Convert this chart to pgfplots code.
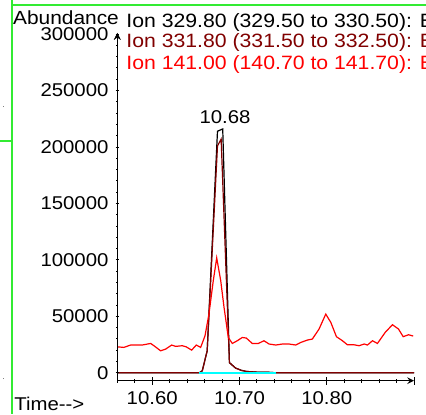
\documentclass[border=0pt]{standalone}
\usepackage{fontspec}
\setmainfont{Liberation Sans}[FakeStretch=1.1]
\usepackage{pgfplots}
\usepackage{pgfplotstable}
\pgfplotsset{compat=1.18}

\definecolor{scrgreen}{RGB}{50,235,50}
\definecolor{ionB}{RGB}{128,0,0}
\definecolor{ionC}{RGB}{255,0,0}
\definecolor{basecyan}{RGB}{0,255,255}

% Ion 329.80
\pgfplotstableread{
t a
10.560 0
10.654 0
10.6574 1800
10.663 19500
10.6748 214000
10.6808 216000
10.6885 9000
10.6955 4200
10.702 2200
10.708 1200
10.720 600
10.735 400
10.742 0
10.900 0
}\ionA

% Ion 331.80
\pgfplotstableread{
t a
10.560 0
10.654 0
10.6574 1800
10.663 19500
10.6748 201000
10.6790 207000
10.6885 9000
10.6955 4200
10.702 2200
10.708 1200
10.720 600
10.735 400
10.742 0
10.900 0
}\ionB

% Ion 141.00
\pgfplotstableread{
t a
10.5600 23000
10.5675 22500
10.5752 24600
10.5885 24600
10.5982 26000
10.6020 24000
10.6096 19500
10.6154 21000
10.6223 24600
10.6268 23400
10.6344 24000
10.6390 23000
10.6452 20100
10.6505 24600
10.6555 22500
10.6605 32800
10.6650 52000
10.6700 81700
10.6739 101800
10.6785 81700
10.6823 58000
10.6872 31300
10.6918 26000
10.6975 28400
10.7032 31300
10.7078 30800
10.7147 26000
10.7216 26000
10.7281 28400
10.7339 25500
10.7416 24600
10.7491 25500
10.7568 25500
10.7645 24600
10.7702 26900
10.7778 29000
10.7835 29900
10.7912 38800
10.7989 52000
10.8047 44600
10.8111 32000
10.8180 28400
10.8237 24800
10.8314 24800
10.8371 24000
10.8429 25500
10.8467 24600
10.8524 28400
10.8581 26000
10.8670 35800
10.8753 42600
10.8822 38800
10.8876 32000
10.8937 33700
10.8990 32600
}\ionC

\pgfplotsset{
  chromframe/.style={
    at={(58.65pt,16.65pt)}, anchor=south west,
    scale only axis, width=148.35pt, height=173.85pt,
    xmin=10.56, xmax=10.90, ymin=-7000, ymax=301000,
    axis line style={-, line width=0.5pt},
    tick align=outside,
    tick style={black, line width=0.5pt},
    ticklabel style={font=\fontsize{9.25}{11}\selectfont},
    scaled ticks=false,
  },
}

\begin{document}
\begin{tikzpicture}
\useasboundingbox (0,0) rectangle (213pt,207pt);
\clip (0,0) rectangle (213pt,207pt);

\begin{axis}[
  chromframe,
  axis x line=bottom, axis y line=left,
  major tick length=4pt, minor tick length=2pt,
  xtick={10.6,10.7,10.8,10.9},
  xticklabels={10.60,10.70,10.80,{}},
  minor xtick={10.56,10.58,10.62,10.64,10.66,10.68,10.72,10.74,10.76,10.78,10.82,10.84,10.86,10.88},
  ytick=\empty,
  clip=false,
]
\addplot[black, line width=0.6pt] table[x=t, y=a] {\ionA};
\addplot[ionB, line width=0.6pt] table[x=t, y=a] {\ionB};
\addplot[ionC, line width=0.6pt] table[x=t, y=a] {\ionC};
\addplot[basecyan, line width=0.8pt] coordinates {(10.654,0) (10.742,0)};
\node[anchor=base, inner sep=0, font=\fontsize{9.25}{11}\selectfont]
  at (axis cs:10.6834,221000) {10.68};
\end{axis}

\begin{axis}[
  chromframe,
  hide x axis, axis y line=left,
  major tick length=1.8pt, minor tick length=0.9pt,
  ytick={0,50000,100000,150000,200000,250000,300000},
  yticklabels={0,50000,100000,150000,200000,250000,300000},
  minor ytick={10000,20000,30000,40000,60000,70000,80000,90000,110000,120000,130000,140000,160000,170000,180000,190000,210000,220000,230000,240000,260000,270000,280000,290000},
]
\end{axis}

\begin{scope}[x=0.5pt, y=-0.5pt, yshift=207pt]
  \fill[scrgreen] (11,0) rectangle (12.7,414);
  \fill[scrgreen] (11,4.3) rectangle (426,6);
  \fill[scrgreen] (0,140) rectangle (12,141.5);
  \fill[gray] (2.5,105.5) rectangle (4,107);
  \fill[gray] (2.5,377.5) rectangle (4,379);
  \node[anchor=base west, inner sep=0, font=\fontsize{9.5}{11}\selectfont]
    at (12.7,24) {Abundance};
  \node[anchor=base west, inner sep=0, font=\fontsize{9.65}{11}\selectfont]
    at (126,27.3) {Ion 329.80 (329.50 to 330.50): E};
  \node[anchor=base west, inner sep=0, text=ionB, font=\fontsize{9.65}{11}\selectfont]
    at (126,47.3) {Ion 331.80 (331.50 to 332.50): E};
  \node[anchor=base west, inner sep=0, text=ionC, font=\fontsize{9.65}{11}\selectfont]
    at (126,69) {Ion 141.00 (140.70 to 141.70): E};
  \node[anchor=base west, inner sep=0, font=\fontsize{9.25}{11}\selectfont]
    at (14,410.5) {Time-{}-{}>};
\end{scope}
\end{tikzpicture}
\end{document}
